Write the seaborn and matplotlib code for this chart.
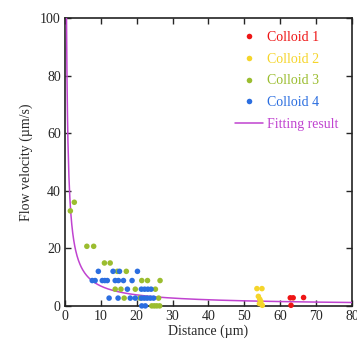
import numpy as np
import pandas as pd
import matplotlib
matplotlib.use("Agg")
import matplotlib.pyplot as plt
import seaborn as sns

# ==========================
# data
# ==========================
c1_x = [62.8, 63.6, 66.5, 63.0]
c1_y = [2.8, 2.8, 2.9, 0.2]

c2_x = [53.5, 54.9, 53.9, 54.3, 54.6, 54.2, 55.0]
c2_y = [6.0, 6.0, 3.3, 2.3, 1.5, 0.8, 0.2]

c3_x = [1.5, 2.6, 6.1, 8.0, 11.0, 12.6, 14.6, 17.1, 21.4, 23.0, 26.5,
        14.0, 15.6, 19.6, 25.2, 16.5, 20.9, 26.1, 24.2, 24.9, 25.6, 26.4]
c3_y = [33.0, 36.0, 20.7, 20.7, 14.9, 14.9, 12.0, 12.0, 8.8, 8.8, 8.8,
        5.8, 5.8, 5.8, 5.8, 2.7, 2.7, 2.7, 0.0, 0.0, 0.0, 0.0]

c4_x = [9.3, 13.4, 15.2, 20.2,
        7.6, 8.4, 10.4, 11.1, 11.8, 14.0, 14.9, 16.3, 18.7,
        17.4, 21.3, 22.2, 23.1, 24.0,
        12.3, 14.8, 18.2, 19.6, 21.3, 22.1, 22.9, 23.8, 24.7,
        21.4, 22.4]
c4_y = [12.0, 12.0, 12.0, 12.0,
        8.8, 8.8, 8.8, 8.8, 8.8, 8.8, 8.8, 8.8, 8.8,
        5.8, 5.8, 5.8, 5.8, 5.8,
        2.7, 2.7, 2.7, 2.7, 2.7, 2.7, 2.7, 2.7, 2.7,
        0.0, 0.0]

labels = ["Colloid 1", "Colloid 2", "Colloid 3", "Colloid 4"]
colors = ["#ee1515", "#f5d52a", "#9bbd2f", "#2b6ee0"]
fit_color = "#c043d0"

# power-law fitting result  v = a * d^-b
fit_a = 48.7
fit_b = 0.85

df = pd.concat([
    pd.DataFrame({"Distance": c1_x, "Velocity": c1_y, "Colloid": labels[0]}),
    pd.DataFrame({"Distance": c2_x, "Velocity": c2_y, "Colloid": labels[1]}),
    pd.DataFrame({"Distance": c3_x, "Velocity": c3_y, "Colloid": labels[2]}),
    pd.DataFrame({"Distance": c4_x, "Velocity": c4_y, "Colloid": labels[3]}),
], ignore_index=True)

fit_x = np.linspace(0.3, 80, 600)
fit_y = fit_a * fit_x ** (-fit_b)

# ==========================
# plot
# ==========================
sns.set_style("ticks")
plt.rcParams["font.family"] = ["Liberation Serif", "DejaVu Serif"]

fig = plt.figure(figsize=(3.57, 3.41), dpi=100)
ax = fig.add_axes([0.182, 0.103, 0.804, 0.844])

sns.lineplot(x=fit_x, y=fit_y, color=fit_color, linewidth=1.1, ax=ax,
             label="Fitting result", zorder=3)
sns.scatterplot(data=df, x="Distance", y="Velocity", hue="Colloid",
                hue_order=labels, palette=dict(zip(labels, colors)),
                s=16, linewidth=0, ax=ax, zorder=4, clip_on=False)

ax.set_xlim(0, 80)
ax.set_ylim(0, 100)
ax.set_xticks(range(0, 81, 10))
ax.set_yticks(range(0, 101, 20))
ax.set_xlabel("Distance (µm)", fontsize=10, labelpad=1)
ax.set_ylabel("Flow velocity (µm/s)", fontsize=10, labelpad=5)

ax.tick_params(direction="in", length=4, width=1, labelsize=10,
               top=True, right=True, pad=3)
for sp in ax.spines.values():
    sp.set_linewidth(1.2)
    sp.set_color("#222222")

handles, lbls = ax.get_legend_handles_labels()
order = [lbls.index(l) for l in labels + ["Fitting result"]]
leg = ax.legend([handles[i] for i in order], [lbls[i] for i in order],
                loc="upper right", frameon=False, fontsize=10,
                handlelength=2.0, handletextpad=0.3, labelspacing=0.62,
                borderaxespad=0.75, borderpad=0.2,
                labelcolor=colors + [fit_color])

plt.savefig("out.png", dpi=100)
